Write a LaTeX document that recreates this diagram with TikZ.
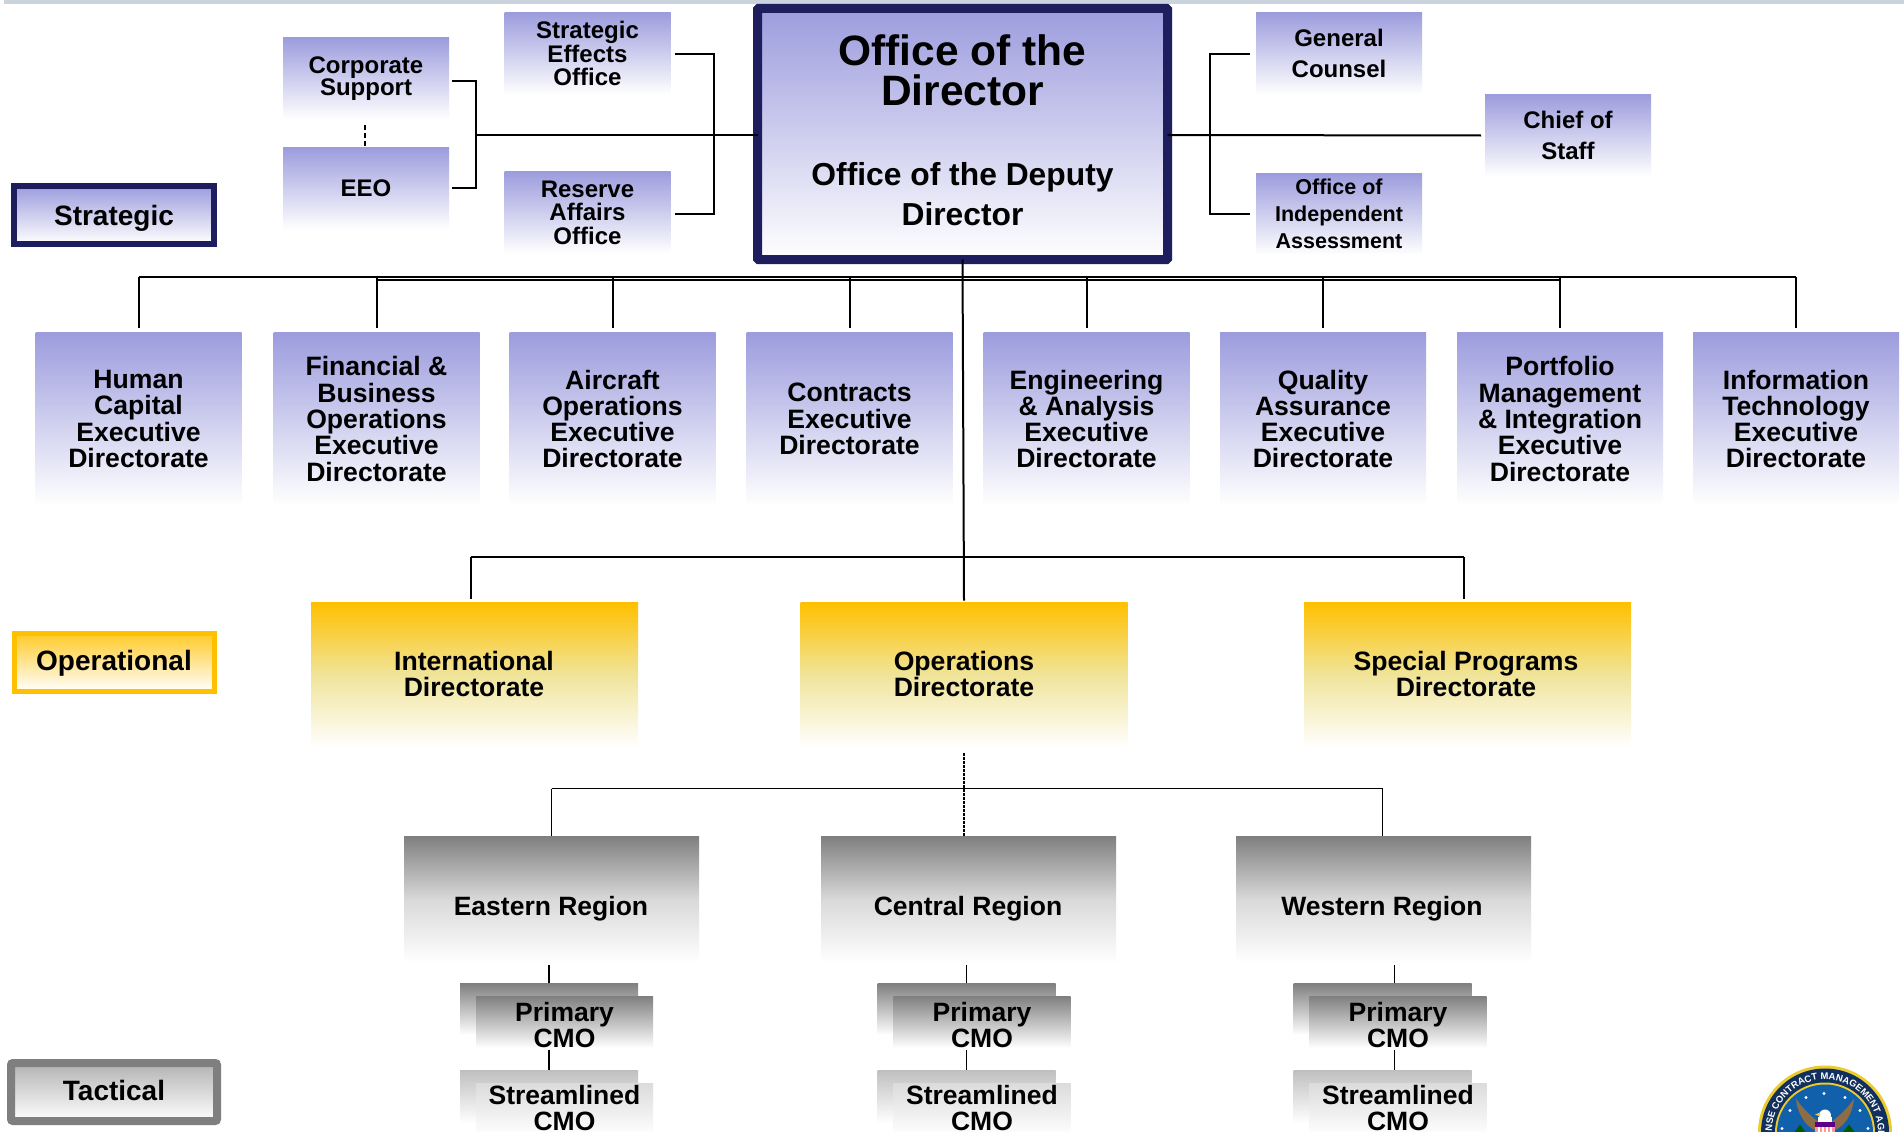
\documentclass[tikz,border=0pt]{standalone}
\usepackage{fontspec}
\setmainfont{Liberation Sans}
\usetikzlibrary{decorations.text}
\definecolor{periw}{HTML}{9C9CDE}
\definecolor{navy}{HTML}{1E1E5E}
\definecolor{gold}{HTML}{FFC000}
\definecolor{paleg}{HTML}{F0E49A}
\definecolor{grayt}{HTML}{7F7F7F}
\definecolor{graym}{HTML}{D9D9D9}
\definecolor{bandc}{HTML}{CAD4DC}
\definecolor{sealy}{HTML}{EBCB2E}
\definecolor{sealn}{HTML}{12305E}
\definecolor{sealb}{HTML}{1160AC}
\definecolor{sealw}{HTML}{8C6D45}
\tikzset{
  txtA/.style={font=\bfseries\fontsize{26.6}{26.3}\selectfont},
  txtL/.style={font=\bfseries\fontsize{28}{26.3}\selectfont},
  txtB/.style={font=\bfseries\fontsize{24}{23.6}\selectfont},
  txtC/.style={font=\bfseries\fontsize{26.5}{26}\selectfont},
  base/.style={inner sep=0pt,outer sep=0pt,align=center,text=black},
  bluegrad/.style={base,top color=periw,bottom color=white,shading angle=0},
  smallbox/.style={bluegrad,txtB,minimum width=166pt,minimum height=82pt},
  dirbox/.style={bluegrad,txtA,minimum width=206pt,minimum height=173pt},
  goldbox/.style={base,txtA,top color=gold,bottom color=white,middle color=paleg,minimum width=327pt,minimum height=145pt},
  regionbox/.style={base,txtC,top color=grayt,bottom color=white,middle color=graym,minimum width=295pt,minimum height=127pt},
  cmoback/.style={base,top color=grayt,bottom color=white,minimum width=178pt,minimum height=52pt},
  cmofront/.style={base,txtC,top color=grayt,bottom color=white,minimum width=177pt,minimum height=52pt},
  sback/.style={base,top color=black!25,bottom color=white,minimum width=178pt,minimum height=53pt},
  sfront/.style={base,txtC,top color=black!14,bottom color=white,minimum width=177pt,minimum height=53pt},
  legendS/.style={base,txtL,draw=navy,line width=5.5pt,top color=periw,bottom color=white,minimum width=200pt,minimum height=58pt},
  legendO/.style={base,txtL,draw=gold,line width=5pt,top color=gold!85,bottom color=white,minimum width=200pt,minimum height=58pt},
  legendT/.style={base,txtL,draw=grayt,line width=8pt,rounded corners=2pt,top color=black!30,bottom color=white,minimum width=206pt,minimum height=58pt},
  conn/.style={draw=black,line width=2pt,line cap=butt,line join=miter},
  connthin/.style={draw=black,line width=1.6pt}
}
\begin{document}
\begin{tikzpicture}[x=1pt,y=-1pt]
\useasboundingbox (0,0) rectangle (1904,1132);
\fill[white] (0,0) rectangle (1904,1132);
\fill[bandc] (4,0) rectangle (1904,4);

% top row
\node[smallbox] (se) at (587.5,53.5) {Strategic\\Effects\\Office};
\node[smallbox] (ra) at (587.5,212.5) {Reserve\\Affairs\\Office};
\node[smallbox,font=\bfseries\fontsize{24}{21.5}\selectfont] (cs) at (366,78.5) {Corporate\\Support};
\node[smallbox] (eeo) at (366,188.5) {EEO};
\node[smallbox,font=\bfseries\fontsize{24}{31.6}\selectfont] (gc) at (1339,53.5) {General\\Counsel};
\node[smallbox,font=\bfseries\fontsize{24}{31.6}\selectfont] (cos) at (1568,135.5) {Chief of\\Staff};
\node[smallbox,font=\bfseries\fontsize{21.5}{26.7}\selectfont] (oia) at (1339,214) {Office of\\Independent\\Assessment};
\node[bluegrad,draw=navy,line width=9pt,rounded corners=1pt,minimum width=410pt,minimum height=251pt] (dir) at (962.5,134) {};
\node[base,font=\bfseries\fontsize{42.5}{40}\selectfont] (dirt) at (962.5,70) {Office of the\\Director};
\node[base,font=\bfseries\fontsize{31.8}{40}\selectfont] (dird) at (962.5,194) {Office of the Deputy\\Director};

% legends
\node[legendS] (lgs) at (114,215) {};
\node[legendO] (lgo) at (114,662) {};
\node[legendT] (lgt) at (114,1092) {};
\node[base,txtL] (lgst) at (114,218) {Strategic};
\node[base,txtL] (lgot) at (114,663) {Operational};
\node[base,txtL] (lgtt) at (114,1090.5) {Tactical};

% directorates
\node[dirbox] (d1) at (138.5,419) {Human\\Capital\\Executive\\Directorate};
\node[dirbox] (d2) at (376.5,419) {Financial \&\\Business\\Operations\\Executive\\Directorate};
\node[dirbox] (d3) at (612.5,419) {Aircraft\\Operations\\Executive\\Directorate};
\node[dirbox] (d4) at (849.5,419) {Contracts\\Executive\\Directorate};
\node[dirbox] (d5) at (1086.5,419) {Engineering\\\& Analysis\\Executive\\Directorate};
\node[dirbox] (d6) at (1323,419) {Quality\\Assurance\\Executive\\Directorate};
\node[dirbox] (d7) at (1560,419) {Portfolio\\Management\\\& Integration\\Executive\\Directorate};
\node[dirbox] (d8) at (1796,419) {Information\\Technology\\Executive\\Directorate};

% operational
\node[goldbox] (intl) at (474.5,675) {};
\node[goldbox] (ops) at (964,675) {};
\node[goldbox] (spec) at (1467.5,675) {};
\node[base,txtA] (intlt) at (474,674) {International\\Directorate};
\node[base,txtA] (opst) at (964,674) {Operations\\Directorate};
\node[base,txtA] (spect) at (1466,674) {Special Programs\\Directorate};

% regions
\node[regionbox] (re) at (551.5,899.5) {};
\node[regionbox] (rc) at (968.5,899.5) {};
\node[regionbox] (rw) at (1383.5,899.5) {};
\node[base,txtC] (ret) at (551,908.5) {Eastern Region};
\node[base,txtC] (rct) at (968,908.5) {Central Region};
\node[base,txtC] (rwt) at (1382,908.5) {Western Region};

% CMO stacks
\node[cmoback] (pb1) at (549,1009) {};
\node[cmoback] (pb2) at (966.5,1009) {};
\node[cmoback] (pb3) at (1382.5,1009) {};
\node[cmofront] (pf1) at (564.5,1022) {};
\node[cmofront] (pf2) at (982,1022) {};
\node[cmofront] (pf3) at (1398,1022) {};
\node[sback] (sb1) at (549,1096.5) {};
\node[sback] (sb2) at (966.5,1096.5) {};
\node[sback] (sb3) at (1382.5,1096.5) {};
\node[sfront] (sf1) at (564.5,1109.5) {};
\node[sfront] (sf2) at (982,1109.5) {};
\node[sfront] (sf3) at (1398,1109.5) {};
\node[base,txtC] (pt1) at (564.5,1025) {Primary\\CMO};
\node[base,txtC] (pt2) at (982,1025) {Primary\\CMO};
\node[base,txtC] (pt3) at (1398,1025) {Primary\\CMO};
\node[base,txtC] (st1) at (564.5,1108) {Streamlined\\CMO};
\node[base,txtC] (st2) at (982,1108) {Streamlined\\CMO};
\node[base,txtC] (st3) at (1398,1108) {Streamlined\\CMO};

% connectors: top left
\coordinate (jl) at (476,135);
\coordinate (jm) at (714,135);
\draw[conn] ([xshift=3pt]cs.east |- 0,81) -| (jl) |- ([xshift=3pt]eeo.east |- 0,188);
\draw[conn] (jl) -- (jl -| dir.west);
\draw[conn] ([xshift=4pt]se.east |- 0,54) -| (jm) |- ([xshift=4pt]ra.east |- 0,214);
\draw[black,line width=1.5pt,dash pattern=on 5pt off 3pt] ([yshift=-5pt]cs.south -| 365,0) -- ([yshift=1pt]eeo.north -| 365,0);
% connectors: top right
\coordinate (jr) at (1210,135);
\draw[conn] (dir.east |- jr) -- ([xshift=-4pt]cos.west);
\draw[conn] ([xshift=-6pt]gc.west |- 0,54) -| (jr) |- ([xshift=-6pt]oia.west |- 0,214);

% bus to directorates
\coordinate (bus) at (0,277);
\coordinate (bus2) at (0,279.5);
\draw[conn] (d1.north |- bus) -- (d8.north |- bus);
\draw[conn] (d2.north |- bus2) -- (d7.north |- bus2);
\foreach \n in {d1,d2,d3,d4,d5,d6,d7,d8}{
  \draw[conn] (\n.north |- bus) -- ([yshift=5pt]\n.north);
}
\draw[conn] (dir.south) -- ([yshift=2pt]ops.north);

% bus to operational
\coordinate (busb) at (0,557);
\draw[conn] ([xshift=-4pt]intl.north |- busb) -- ([xshift=-4pt,yshift=4pt]intl.north);
\draw[conn] ([xshift=-4pt]intl.north |- busb) -- ([xshift=-4pt]spec.north |- busb);
\draw[conn] ([xshift=-4pt]spec.north |- busb) -- ([xshift=-4pt,yshift=4pt]spec.north);

% bus to regions
\coordinate (busc) at (0,788.5);
\draw[black,line width=1.5pt,dash pattern=on 3pt off 1pt] ([yshift=-5pt]ops.south) -- (ops.south |- rc.north);
\draw[connthin] (re.north |- busc) -- ([xshift=-1pt]rw.north |- busc);
\draw[connthin] (re.north |- busc) -- (re.north);
\draw[connthin] ([xshift=-1pt]rw.north |- busc) -- ([xshift=-1pt]rw.north);

% regions to CMOs
\foreach \r/\p/\f/\s/\dx in {re/pb1/pf1/sb1/0,rc/pb2/pf2/sb2/0,rw/pb3/pf3/sb3/12}{
  \draw[connthin] ([xshift=\dx pt,yshift=-2pt]\p.north |- \r.south) -- ([xshift=\dx pt]\p.north);
  \draw[connthin] ([xshift=\dx pt,yshift=-2pt]\s.north |- \f.south) -- ([xshift=\dx pt]\s.north);
}

% seal
\begin{scope}[shift={(1825,1132.5)},x=1pt,y=1pt]
  \fill[sealy] (0,0) circle (67);
  \fill[sealn] (0,0) circle (64);
  \fill[sealy] (0,0) circle (50);
  \fill[sealb] (0,0) circle (48);
  \path[decorate,decoration={text along path,text align=center,
        text={|\bfseries\fontsize{9.5}{10}\selectfont\color{white}|DEFENSE CONTRACT MANAGEMENT AGENCY}}]
     (210:53) arc[start angle=210,end angle=-30,radius=53];
  \foreach \a/\b in {-1/39,-19/35,20/35,-35/22,35/22,-43/4,43/4}{\fill[white] (\a,\b) circle (1.6);}
  \fill[green!35!black] (-33,-3) -- (-25,8) -- (-17,-3) -- cycle;
  \fill[green!35!black] (15,-3) -- (24,8) -- (32,-3) -- cycle;
  \fill[sealw] (-29,34) .. controls (-24,26) and (-16,18) .. (-7,11) -- (-9,2) .. controls (-20,6) and (-28,20) .. cycle;
  \fill[sealw] (29,34) .. controls (24,26) and (16,18) .. (7,11) -- (9,2) .. controls (20,6) and (28,20) .. cycle;
  \fill[white] (0,17) circle (6);
  \fill[white] (-7,9) rectangle (7,16);
  \fill[sealy] (-10,18) -- (-5,20) -- (-5,16) -- cycle;
  \fill[black!20!blue!50!purple] (-10,6) rectangle (10,11);
  \fill[pink!80!red] (-10,-3) rectangle (10,6);
  \foreach \a in {-7,-3,1,5}{\fill[white] (\a,-3) rectangle (\a+1.8,6);}
\end{scope}
\end{tikzpicture}
\end{document}
